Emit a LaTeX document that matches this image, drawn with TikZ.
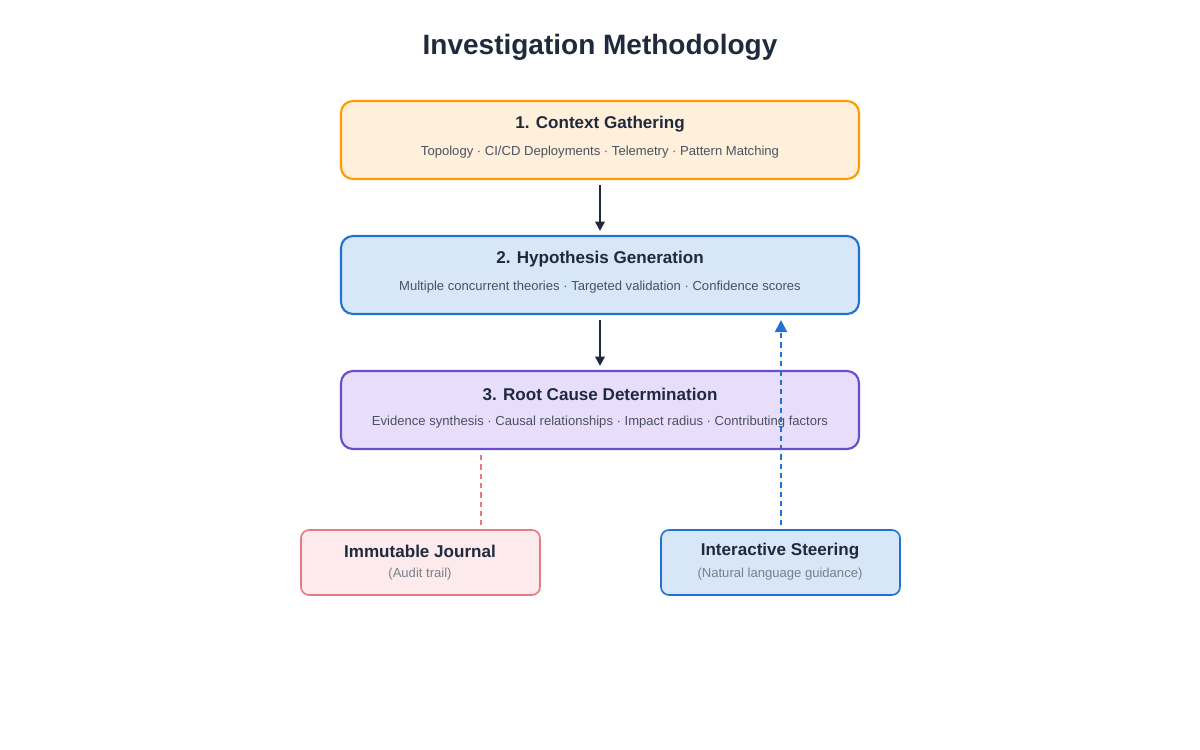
\documentclass[tikz,border=0pt]{standalone}
\usepackage{fontspec}
\setmainfont{Liberation Sans}
\usetikzlibrary{arrows.meta}
\definecolor{ink}{HTML}{1F2A3C}
\definecolor{sub}{HTML}{4A5160}
\definecolor{gr}{HTML}{7A808A}
\definecolor{orB}{HTML}{FF9A00}\definecolor{orF}{HTML}{FFF0DB}
\definecolor{blB}{HTML}{2272D4}\definecolor{blF}{HTML}{D7E7F8}
\definecolor{puB}{HTML}{6B4CCC}\definecolor{puF}{HTML}{E8DEFC}
\definecolor{reB}{HTML}{E57B80}\definecolor{reF}{HTML}{FDEAEC}
\begin{document}
\begin{tikzpicture}[x=0.75pt,y=-0.75pt,
 box/.style={draw,line width=1.6pt,rounded corners=9pt},
 sbox/.style={draw,line width=1.2pt,rounded corners=6pt},
 ttl/.style={font=\fontsize{12.8pt}{15pt}\selectfont\bfseries,text=ink},
 st/.style={font=\fontsize{9.8pt}{12pt}\selectfont,text=sub},
 gt/.style={font=\fontsize{9.8pt}{12pt}\selectfont,text=gr},
 arr/.style={draw=ink,line width=1.6pt,-{Triangle[length=7pt,width=7pt]}}]
\useasboundingbox (0,0) rectangle (1200,750);
\node[font=\fontsize{21pt}{25pt}\selectfont\bfseries,text=ink] (title) at (600,47) {Investigation Methodology};
\draw[box,draw=orB,fill=orF] (341,101) rectangle (859,179);
\node[ttl] (t1) at (600,124) {1. Context Gathering};
\node[st] (s1) at (600,152) {Topology · CI/CD Deployments · Telemetry · Pattern Matching};
\draw[box,draw=blB,fill=blF] (341,236) rectangle (859,314);
\node[ttl] (t2) at (600,259) {2. Hypothesis Generation};
\node[st] (s2) at (600,287) {Multiple concurrent theories · Targeted validation · Confidence scores};
\draw[box,draw=puB,fill=puF] (341,371) rectangle (859,449);
\node[ttl] (t3) at (600,394) {3. Root Cause Determination};
\node[st] (s3) at (600,422) {Evidence synthesis · Causal relationships · Impact radius · Contributing factors};
\draw[sbox,draw=reB,fill=reF] (301,530) rectangle (540,595);
\node[ttl] (tj) at (420,551) {Immutable Journal};
\node[gt] (sj) at (420,574) {(Audit trail)};
\draw[sbox,draw=blB,fill=blF] (661,530) rectangle (900,595);
\node[ttl] (ts) at (780,551) {Interactive Steering};
\node[gt] (ss) at (780,574) {(Natural language guidance)};
\coordinate (a1) at (600,185); \coordinate (a2) at (600,231);
\coordinate (b1) at (600,320); \coordinate (b2) at (600,366);
\coordinate (r1) at (481,455); \coordinate (r2) at (481,525);
\coordinate (u1) at (781,525); \coordinate (u2) at (781,320);
\draw[arr] (a1) -- (a2);
\draw[arr] (b1) -- (b2);
\draw[draw=reB,line width=1.3pt,dash pattern=on 4pt off 3pt] (r1) -- (r2);
\draw[draw=blB,line width=1.3pt,dash pattern=on 4pt off 3pt,-{Triangle[length=9pt,width=9pt]}] (u1) -- (u2);
\end{tikzpicture}
\end{document}
